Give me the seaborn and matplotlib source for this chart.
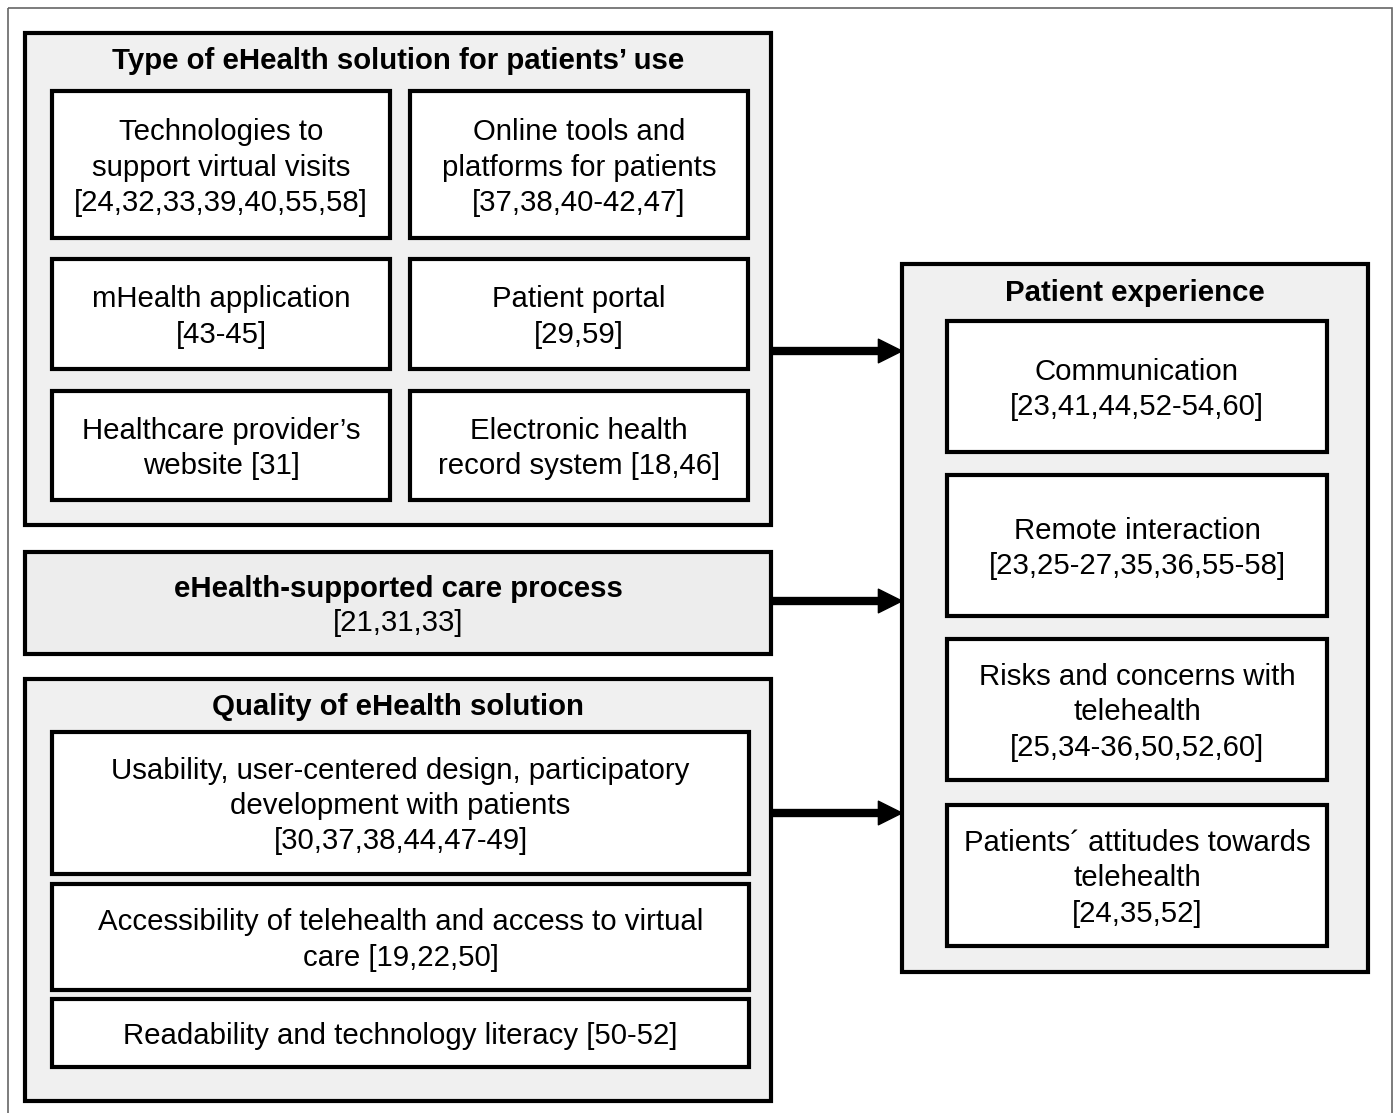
import matplotlib.pyplot as plt
import seaborn as sns
from matplotlib.patches import Rectangle

sns.set_style("white")
plt.rcParams['font.family'] = ['Liberation Sans', 'DejaVu Sans']
plt.rcParams['text.color'] = 'black'

# Texts of the diagram
type_title = "Type of eHealth solution for patients’ use"
type_labels = ["Technologies to\nsupport virtual visits\n[24,32,33,39,40,55,58]",
               "Online tools and\nplatforms for patients\n[37,38,40-42,47]",
               "mHealth application\n[43-45]",
               "Patient portal\n[29,59]",
               "Healthcare provider’s\nwebsite [31]",
               "Electronic health\nrecord system [18,46]"]
process_title = "eHealth-supported care process"
process_refs = "[21,31,33]"
quality_title = "Quality of eHealth solution"
quality_labels = ["Usability, user-centered design, participatory\ndevelopment with patients\n[30,37,38,44,47-49]",
                  "Accessibility of telehealth and access to virtual\ncare [19,22,50]",
                  "Readability and technology literacy [50-52]"]
exp_title = "Patient experience"
exp_labels = ["Communication\n[23,41,44,52-54,60]",
              "Remote interaction\n[23,25-27,35,36,55-58]",
              "Risks and concerns with\ntelehealth\n[25,34-36,50,52,60]",
              "Patients´ attitudes towards\ntelehealth\n[24,35,52]"]

W, H = 1394, 1113
fig = plt.figure(figsize=(W / 100, H / 100), dpi=100)
ax = fig.add_axes([0, 0, 1, 1])
ax.set_xlim(0, W)
ax.set_ylim(H, 0)
ax.axis("off")

FS = 21.2
LW = 3.0
GREY = "#f0f0f0"
DY = 3  # small downward nudge of text


def box(x0, y0, x1, y1, fill="white", lw=LW, ec="black"):
    ax.add_patch(Rectangle((x0, y0), x1 - x0, y1 - y0, facecolor=fill,
                           edgecolor=ec, linewidth=lw, joinstyle="miter"))


def label(x0, y0, x1, y1, text):
    box(x0, y0, x1, y1)
    ax.text((x0 + x1) / 2, (y0 + y1) / 2 + DY, text, ha="center",
            va="center", fontsize=FS, linespacing=1.32,
            multialignment="center")


def title(x, y, text):
    ax.text(x, y + 2, text, ha="center", va="center", fontsize=FS,
            fontweight="bold")


# outer frame
ax.add_patch(Rectangle((8, 8), 1384, 1120, facecolor="none",
                       edgecolor="#666666", linewidth=1.2))

# group 1: type of solution
box(25, 33, 771, 525, fill=GREY)
title(398, 59, type_title)
cols = [(52, 390), (410, 748)]
rows = [(91, 238), (259, 369), (391, 500)]
for i, txt in enumerate(type_labels):
    (cx0, cx1), (ry0, ry1) = cols[i % 2], rows[i // 2]
    label(cx0, ry0, cx1, ry1, txt)

# group 2: care process
box(25, 552, 771, 654, fill="#ededed")
title(398, 587, process_title)
ax.text(398, 623, process_refs, ha="center", va="center", fontsize=FS)

# group 3: quality
box(25, 679, 771, 1101, fill=GREY)
title(398, 705, quality_title)
qrows = [(732, 874), (884, 990), (999, 1067)]
for (y0, y1), txt in zip(qrows, quality_labels):
    label(52, y0, 749, y1, txt)

# right group: patient experience
box(902, 264, 1368, 972, fill=GREY)
title(1135, 291, exp_title)
erows = [(321, 452), (475, 616), (639, 780), (805, 946)]
for (y0, y1), txt in zip(erows, exp_labels):
    label(947, y0, 1327, y1, txt)

# arrows
for y in [351, 601, 813]:
    ax.annotate("", xy=(902, y), xytext=(771, y),
                arrowprops=dict(facecolor="black", edgecolor="black",
                                width=5, headwidth=17, headlength=17,
                                shrink=0))

fig.savefig("out.png", dpi=100)
